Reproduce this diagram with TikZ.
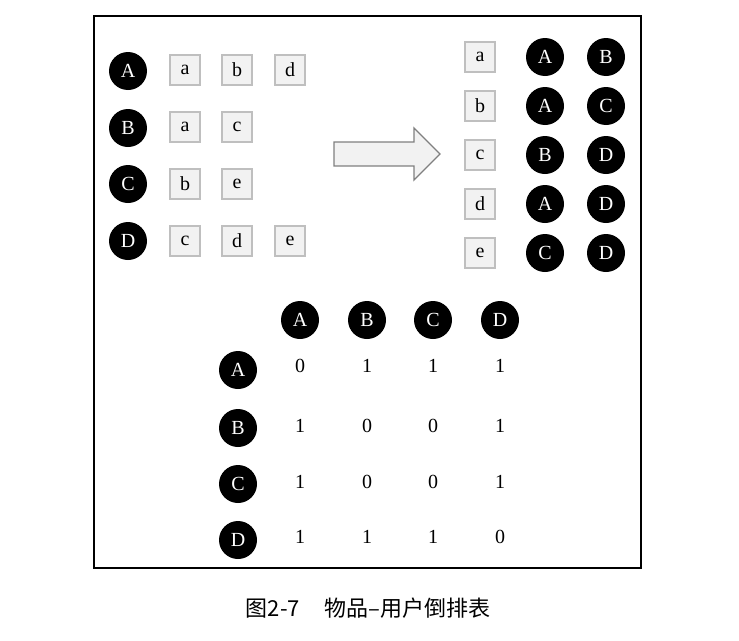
\documentclass[tikz,border=0pt]{standalone}
\usepackage{fontspec}
\setmainfont{Liberation Serif}
\newfontfamily\cjk{Noto Sans CJK SC}
\definecolor{boxfill}{HTML}{F2F2F2}
\definecolor{boxline}{HTML}{BFBFBF}
\definecolor{arrline}{HTML}{808080}
\begin{document}
\begin{tikzpicture}[x=1pt,y=-1pt,
  user/.style={circle,fill=black,text=white,minimum size=38pt,inner sep=0pt,font=\fontsize{20}{20}\selectfont},
  item/.style={rectangle,fill=boxfill,draw=boxline,line width=1.3pt,minimum width=30pt,minimum height=30pt,inner sep=0pt,font=\fontsize{20}{20}\selectfont},
  num/.style={inner sep=0pt,font=\fontsize{20}{20}\selectfont}]
\useasboundingbox (0,0) rectangle (739,640);
\draw[line width=2pt] (94,16) rectangle (641,568);
% left: user -> items
\foreach \u/\y in {A/71,B/128,C/184,D/241} \node[user] (L\u) at (128,\y) {\u};
\node[item] (LAa) at (185,70) {a};
\node[item] (LAb) at (237,70) {b};
\node[item] (LAd) at (290,70) {d};
\node[item] (LBa) at (185,127) {a};
\node[item] (LBc) at (237,127) {c};
\node[item] (LCb) at (185,184) {b};
\node[item] (LCe) at (237,184) {e};
\node[item] (LDc) at (185,241) {c};
\node[item] (LDd) at (237,241) {d};
\node[item] (LDe) at (290,241) {e};
% arrow
\draw[fill=boxfill,draw=arrline,line width=1.3pt,line join=miter]
  (334,142) -- (414,142) -- (414,128) -- (440,154) -- (414,180) -- (414,166) -- (334,166) -- cycle;
% right: item -> users
\node[item] (Ra) at (480,57) {a};
\node[item] (Rb) at (480,106) {b};
\node[item] (Rc) at (480,155) {c};
\node[item] (Rd) at (480,204) {d};
\node[item] (Re) at (480,253) {e};
\node[user] (RaA) at (545,57) {A};
\node[user] (RaB) at (606,57) {B};
\node[user] (RbA) at (545,106) {A};
\node[user] (RbC) at (606,106) {C};
\node[user] (RcB) at (545,155) {B};
\node[user] (RcD) at (606,155) {D};
\node[user] (RdA) at (545,204) {A};
\node[user] (RdD) at (606,204) {D};
\node[user] (ReC) at (545,253) {C};
\node[user] (ReD) at (606,253) {D};
% matrix
\foreach \u/\x in {A/300,B/367,C/433,D/500} \node[user] (H\u) at (\x,320) {\u};
\foreach \u/\y in {A/370,B/428,C/484,D/540} \node[user] (V\u) at (238,\y) {\u};
\foreach \r/\y/\va/\vb/\vc/\vd in {A/366/0/1/1/1,B/426/1/0/0/1,C/482/1/0/0/1,D/537/1/1/1/0}{
  \node[num] (M\r A) at (300,\y) {\va};
  \node[num] (M\r B) at (367,\y) {\vb};
  \node[num] (M\r C) at (433,\y) {\vc};
  \node[num] (M\r D) at (500,\y) {\vd};
}
\node[font=\cjk\fontsize{22}{22}\selectfont] (cap) at (368,608) {图2-7\hspace{1.1em}物品–用户倒排表};
\end{tikzpicture}
\end{document}
